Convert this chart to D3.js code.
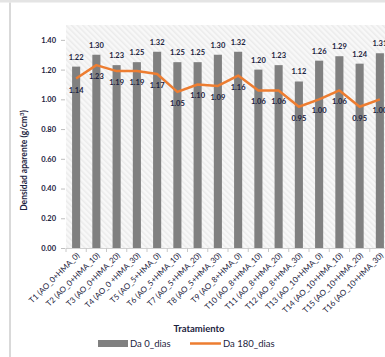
<!DOCTYPE html>
<html>
<head>
<meta charset="utf-8">
<script src="https://cdn.jsdelivr.net/npm/d3@7"></script>
<style>
  html, body { margin: 0; padding: 0; background: #ffffff; }
  svg { display: block; }
  text { font-family: Lato, "Open Sans", sans-serif; }
</style>
</head>
<body>
<svg id="chart" width="385" height="357"></svg>
<script>
// Bulk density per treatment, at day 0 and day 180
const categories = [
  "T1 (AO_0+HMA_0)", "T2 (AO_0+HMA_10)", "T3 (AO_0+HMA_20)", "T4 (AO_0 +HMA_30)",
  "T5 (AO_5+HMA_0)", "T6 (AO_5+HMA_10)", "T7 (AO_5+HMA_20)", "T8 (AO_5+HMA_30)",
  "T9 (AO_8+HMA_0)", "T10 (AO_8+HMA_10)", "T11 (AO_8+HMA_20)", "T12 (AO_8+HMA_30)",
  "T13 (AO_10+HMA_0)", "T14 (AO_10+HMA_10)", "T15 (AO_10+HMA_20)", "T16 (AO_10+HMA_30)"
];
const da0 = [1.22, 1.30, 1.23, 1.25, 1.32, 1.25, 1.25, 1.30, 1.32, 1.20, 1.23, 1.12, 1.26, 1.29, 1.24, 1.31];
const da180 = [1.14, 1.23, 1.19, 1.19, 1.17, 1.05, 1.10, 1.09, 1.16, 1.06, 1.06, 0.95, 1.00, 1.06, 0.95, 1.00];
const yTicks = [0, 0.2, 0.4, 0.6, 0.8, 1.0, 1.2, 1.4];
const seriesNames = ["Da 0_dias", "Da 180_dias"];

const svg = d3.select("#chart");
const plot = { left: 66, right: 390, top: 25, bottom: 248 };
const textColor = "#1c2340";
const barColor = "#808080";
const lineColor = "#ED7D31";

// page frame
svg.append("rect").attr("x", 0).attr("y", 0).attr("width", 385).attr("height", 357).attr("fill", "#ffffff");
svg.append("rect").attr("x", 0).attr("y", 0).attr("width", 385).attr("height", 2.5).attr("fill", "#e4e4e4");
svg.append("rect").attr("x", 9).attr("y", 2.5).attr("width", 2).attr("height", 355).attr("fill", "#d9d9d9");

// hatched plot background
const defs = svg.append("defs");
const pat = defs.append("pattern")
  .attr("id", "hatch").attr("patternUnits", "userSpaceOnUse")
  .attr("width", 4).attr("height", 4)
  .attr("patternTransform", "rotate(-45)");
pat.append("rect").attr("width", 4).attr("height", 4).attr("fill", "#f8f8f8");
pat.append("rect").attr("width", 1.5).attr("height", 4).attr("fill", "#ebebeb");

const x = d3.scaleBand().domain(categories).range([plot.left, plot.right]).paddingInner(0.6).paddingOuter(0.3);
const y = d3.scaleLinear().domain([0, 1.5]).range([plot.bottom, plot.top]);

svg.append("rect")
  .attr("x", plot.left).attr("y", plot.top)
  .attr("width", plot.right - plot.left).attr("height", plot.bottom - plot.top)
  .attr("fill", "url(#hatch)");

// y axis
const yAxis = svg.append("g")
  .attr("transform", `translate(${plot.left - 1},0)`)
  .call(d3.axisLeft(y).tickValues(yTicks).tickFormat(d3.format(".2f")).tickSize(4).tickPadding(5));
yAxis.select(".domain").remove();
yAxis.selectAll(".tick line").attr("stroke", "#bfbfbf");
yAxis.selectAll(".tick text")
  .attr("fill", textColor).attr("font-size", 7.5).attr("font-weight", 700)
  .attr("font-family", "Lato, sans-serif");

// x axis (ticks between categories)
const xAxisG = svg.append("g").attr("transform", `translate(0,${plot.bottom})`);
xAxisG.append("line").attr("x1", plot.left).attr("x2", plot.right).attr("y1", 0.5).attr("y2", 0.5).attr("stroke", "#d0d0d0");
const step = x.step();
const gap = (x.step() - x.bandwidth()) / 2;
xAxisG.selectAll("line.sep")
  .data(d3.range(categories.length + 1))
  .join("line").attr("class", "sep")
  .attr("x1", i => x(categories[0]) - gap + i * step)
  .attr("x2", i => x(categories[0]) - gap + i * step)
  .attr("y1", 0).attr("y2", 4).attr("stroke", "#c8c8c8");

svg.append("g").selectAll("text.xl")
  .data(categories)
  .join("text").attr("class", "xl")
  .attr("transform", d => `translate(${x(d) + x.bandwidth() / 2 + 4},${plot.bottom + 8}) rotate(-45)`)
  .attr("text-anchor", "end")
  .attr("font-size", 8).attr("fill", textColor)
  .text(d => d);

// bars
svg.append("g").selectAll("rect.bar")
  .data(da0)
  .join("rect").attr("class", "bar")
  .attr("x", (d, i) => x(categories[i]))
  .attr("y", d => y(d))
  .attr("width", x.bandwidth())
  .attr("height", d => y(0) - y(d))
  .attr("fill", barColor);

// line
const line = d3.line()
  .x((d, i) => x(categories[i]) + x.bandwidth() / 2)
  .y(d => y(d));
svg.append("path")
  .datum(da180)
  .attr("d", line)
  .attr("fill", "none")
  .attr("stroke", lineColor)
  .attr("stroke-width", 2.5)
  .attr("stroke-linejoin", "round");

// bar value labels
svg.append("g").selectAll("text.bl")
  .data(da0)
  .join("text").attr("class", "bl")
  .attr("x", (d, i) => x(categories[i]) + x.bandwidth() / 2)
  .attr("y", d => y(d) - 7)
  .attr("text-anchor", "middle")
  .attr("font-size", 7.5).attr("font-weight", 700).attr("fill", textColor)
  .text(d => d3.format(".2f")(d));

// line value labels
svg.append("g").selectAll("text.ll")
  .data(da180)
  .join("text").attr("class", "ll")
  .attr("x", (d, i) => x(categories[i]) + x.bandwidth() / 2)
  .attr("y", d => y(d) + 14)
  .attr("text-anchor", "middle")
  .attr("font-size", 7.5).attr("font-weight", 700).attr("fill", textColor)
  .text(d => d3.format(".2f")(d));

// axis titles
svg.append("text")
  .attr("transform", `translate(27,${(plot.top + plot.bottom) / 2 + 24}) rotate(-90)`)
  .attr("text-anchor", "middle")
  .attr("font-size", 8.5).attr("font-weight", 700).attr("fill", textColor)
  .html('Densidad aparente (g/cm<tspan dy="-3" font-size="6">3</tspan><tspan dy="3">)</tspan>');

svg.append("text")
  .attr("x", 199).attr("y", 332)
  .attr("text-anchor", "middle")
  .attr("font-size", 9.5).attr("font-weight", 700).attr("fill", textColor)
  .text("Tratamiento");

// legend
const lg = svg.append("g");
lg.append("rect").attr("x", 98).attr("y", 340).attr("width", 30).attr("height", 7).attr("fill", barColor);
lg.append("text").attr("x", 130).attr("y", 347).attr("font-size", 9.5).attr("fill", textColor).text(seriesNames[0]);
lg.append("line").attr("x1", 190).attr("x2", 221).attr("y1", 343.5).attr("y2", 343.5)
  .attr("stroke", lineColor).attr("stroke-width", 2.5);
lg.append("text").attr("x", 223).attr("y", 347).attr("font-size", 9.5).attr("fill", textColor).text(seriesNames[1]);
</script>
</body>
</html>
